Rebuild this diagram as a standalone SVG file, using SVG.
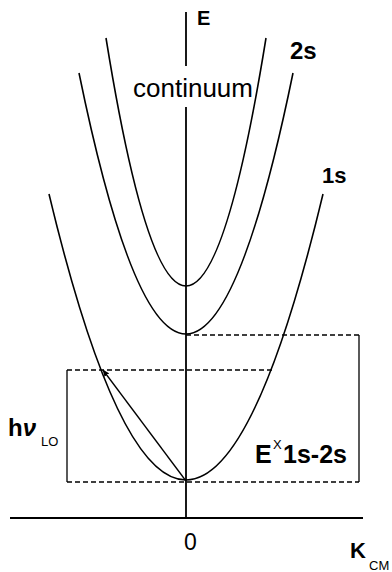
<svg xmlns="http://www.w3.org/2000/svg" width="392" height="572" viewBox="0 0 392 572">
<style>
.c{fill:none;stroke:#000;stroke-width:1.6}
.ax{fill:none;stroke:#000;stroke-width:1.8}
.d{fill:none;stroke:#000;stroke-width:1.3;stroke-dasharray:5 3}
.s{fill:none;stroke:#000;stroke-width:1.3}
text{font-family:"Liberation Sans",Arial,sans-serif;fill:#000}
.b{font-weight:bold}
</style>
<defs>
<marker id="ah" viewBox="0 0 10 10" refX="9" refY="5" markerWidth="7" markerHeight="7" orient="auto" markerUnits="userSpaceOnUse">
<path d="M0,1 L10,5 L0,9 z" fill="#000"/>
</marker>
</defs>
<g id="axes">
<line class="ax" x1="186" y1="12" x2="186" y2="66"/>
<line class="ax" x1="186" y1="107" x2="186" y2="519"/>
<line class="ax" x1="10" y1="518" x2="363" y2="518"/>
</g>
<g id="curves">
<path id="continuum-curve" class="c" d="M106,38 Q186,534 266,38"/>
<path id="curve-2s" class="c" d="M79,73 Q186,595 293,73"/>
<path id="curve-1s" class="c" d="M49,194 Q186,766 323,194"/>
</g>
<g id="connectors">
<line class="d" x1="186" y1="335" x2="359" y2="335"/>
<line class="s" x1="359" y1="335" x2="359" y2="482"/>
<line class="d" x1="67" y1="370" x2="272" y2="370"/>
<line class="s" x1="67" y1="370" x2="67" y2="482"/>
<line class="d" x1="67" y1="482" x2="359" y2="482"/>
<line class="s" x1="186" y1="481" x2="103" y2="370" marker-end="url(#ah)"/>
</g>
<g id="labels">
<text class="b" x="197" y="25" font-size="20">E</text>
<text class="b" x="290" y="59" font-size="24">2s</text>
<text x="133" y="97" font-size="26">continuum</text>
<text class="b" x="322" y="183" font-size="22">1s</text>
<text class="b" x="8" y="436" font-size="24">h<tspan font-style="italic">ν</tspan></text>
<text x="41" y="446" font-size="13">LO</text>
<text class="b" x="255" y="463" font-size="25">E</text>
<text x="273" y="449" font-size="13">X</text>
<text class="b" x="283" y="463" font-size="25">1s-2s</text>
<text x="184" y="550" font-size="23">0</text>
<text class="b" x="350" y="558" font-size="22">K</text>
<text x="369" y="570" font-size="13">CM</text>
</g>
</svg>
